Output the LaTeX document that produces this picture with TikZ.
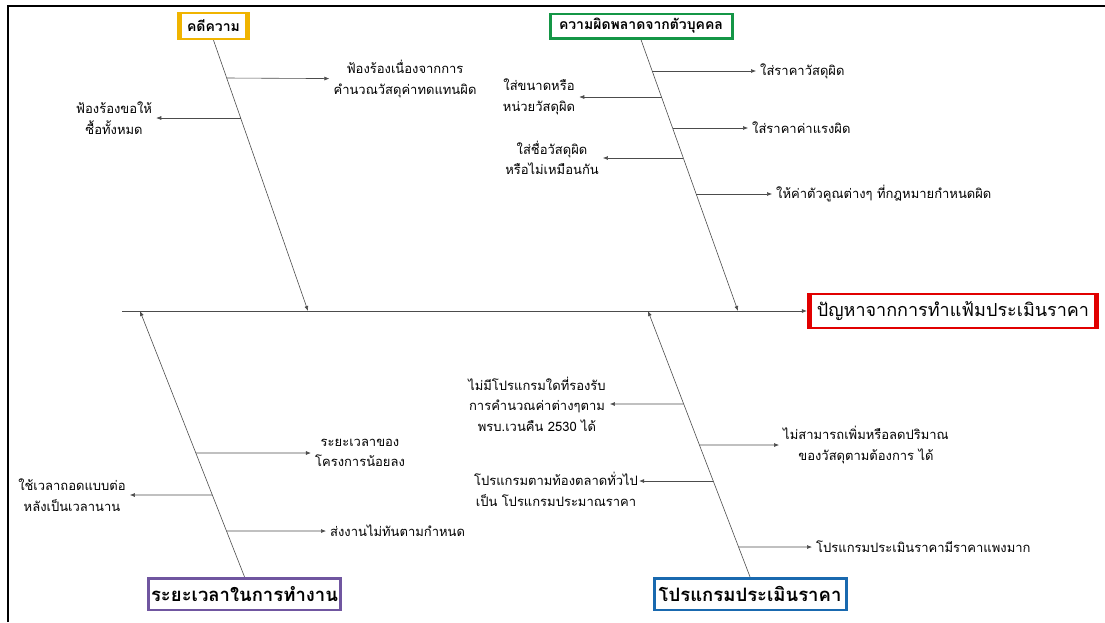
\documentclass[tikz,border=0pt]{standalone}
\usepackage{fontspec}
\setmainfont[Script=Thai]{Loma}
\usepackage{xcolor}
\usetikzlibrary{arrows.meta}

\definecolor{kyellow}{RGB}{240,180,0}
\definecolor{pgreen}{RGB}{20,150,70}
\definecolor{ered}{RGB}{225,0,0}
\definecolor{tpurple}{RGB}{112,86,160}
\definecolor{sblue}{RGB}{25,105,175}

\begin{document}
\begin{tikzpicture}[x=1pt, y=-1pt,
    cause/.style={font=\fontsize{13}{20.5}\selectfont, align=center, inner sep=4pt},
    headbox/.style={fill=#1, inner sep=0pt, align=center,
    path picture={\fill[white] ([xshift=5pt,yshift=-2pt]path picture bounding box.north west)
    rectangle ([xshift=-5pt,yshift=2pt]path picture bounding box.south east);}},
    thinbox/.style={fill=#1, inner sep=0pt, align=center,
    path picture={\fill[white] ([xshift=3pt,yshift=-2.5pt]path picture bounding box.north west)
    rectangle ([xshift=-3pt,yshift=2.5pt]path picture bounding box.south east);}},
    bone/.style={draw=black!75, line width=0.8pt},
    arr/.style={-{Latex[length=5pt,width=4pt]}, draw=black!70, line width=0.6pt}
]
\useasboundingbox (0,0) rectangle (1105,622);
% frame
\draw[line width=2.5pt] (8,622) -- (8,6) -- (1105,6);

% heads
\node[headbox=kyellow, minimum width=73pt, minimum height=28pt,
    font=\fontsize{14}{17}\selectfont\bfseries] (kbox) at (213.5,26) {คดีความ};
\node[thinbox=pgreen, minimum width=185pt, minimum height=27pt,
    font=\fontsize{14}{17}\selectfont\bfseries] (pbox) at (641,26) {ความผิดพลาดจากตัวบุคคล};
\node[headbox=ered, minimum width=292pt, minimum height=36pt,
    font=\fontsize{18}{21}\selectfont] (ebox) at (953,311) {ปัญหาจากการทำแฟ้มประเมินราคา};
\node[thinbox=tpurple, minimum width=195pt, minimum height=34pt,
    font=\fontsize{18.5}{22}\selectfont\bfseries] (tbox) at (244.5,594) {ระยะเวลาในการทำงาน};
\node[thinbox=sblue, minimum width=195pt, minimum height=34pt,
    font=\fontsize{18.5}{22}\selectfont\bfseries] (sbox) at (750,594) {โปรแกรมประเมินราคา};

% spine and bones
\coordinate (tail) at (122,311);
\coordinate (kj) at (308,311);
\coordinate (pj) at (738,311);
\coordinate (tj) at (140,311);
\coordinate (sj) at (648,311);
\draw[arr] (tail) -- (ebox.west);
\draw[arr] (kbox.south) -- (kj);
\draw[arr] (pbox.south) -- (pj);
\draw[arr] (tbox.north) -- (tj);
\draw[arr] (sbox.north) -- (sj);

% points on the bones
\coordinate (k1) at (intersection of kbox.south--kj and 0,78--100,78);
\coordinate (k2) at (intersection of kbox.south--kj and 0,118--100,118);
\coordinate (p1) at (intersection of pbox.south--pj and 0,71--100,71);
\coordinate (p2) at (intersection of pbox.south--pj and 0,97--100,97);
\coordinate (p3) at (intersection of pbox.south--pj and 0,128--100,128);
\coordinate (p4) at (intersection of pbox.south--pj and 0,158--100,158);
\coordinate (p5) at (intersection of pbox.south--pj and 0,194--100,194);
\coordinate (t1) at (intersection of tbox.north--tj and 0,453--100,453);
\coordinate (t2) at (intersection of tbox.north--tj and 0,495--100,495);
\coordinate (t3) at (intersection of tbox.north--tj and 0,531--100,531);
\coordinate (s1) at (intersection of sbox.north--sj and 0,404--100,404);
\coordinate (s2) at (intersection of sbox.north--sj and 0,445--100,445);
\coordinate (s3) at (intersection of sbox.north--sj and 0,481--100,481);
\coordinate (s4) at (intersection of sbox.north--sj and 0,547--100,547);

% causes
\node[cause] (kc1) at (405,79) {ฟ้องร้องเนื่องจากการ\\คำนวณวัสดุค่าทดแทนผิด};
\node[cause] (kc2) at (114,118) {ฟ้องร้องขอให้\\ซื้อทั้งหมด};
\node[cause, anchor=west] (pc1) at (756,71) {ใส่ราคาวัสดุผิด};
\node[cause] (pc2) at (539,97) {ใส่ขนาดหรือ\\หน่วยวัสดุผิด};
\node[cause, anchor=west] (pc3) at (748,128) {ใส่ราคาค่าแรงผิด};
\node[cause] (pc4) at (552,158) {ใส่ชื่อวัสดุผิด\\หรือไม่เหมือนกัน};
\node[cause, anchor=west] (pc5) at (772,194) {ให้ค่าตัวคูณต่างๆ ที่กฎหมายกำหนดผิด};
\node[cause] (tc1) at (360,453) {ระยะเวลาของ\\โครงการน้อยลง};
\node[cause] (tc2) at (72,495) {ใช้เวลาถอดแบบต่อ\\หลังเป็นเวลานาน};
\node[cause, anchor=west] (tc3) at (326,531) {ส่งงานไม่ทันตามกำหนด};
\node[cause] (sc1) at (537,404) {ไม่มีโปรแกรมใดที่รองรับ\\การคำนวณค่าต่างๆตาม\\พรบ.เวนคืน 2530 ได้};
\node[cause] (sc2) at (866,445) {ไม่สามารถเพิ่มหรือลดปริมาณ\\ของวัสดุตามต้องการ ได้};
\node[cause, anchor=north, inner sep=1pt] (sc3) at (556,471) {โปรแกรมตามท้องตลาดทั่วไป\\เป็น โปรแกรมประมาณราคา};
\node[cause, anchor=west] (sc4) at (812,547) {โปรแกรมประเมินราคามีราคาแพงมาก};

% branches
\draw[arr] (k1) -- (kc1);
\draw[arr] (k2) -- (kc2);
\draw[arr] (p1) -- (pc1);
\draw[arr] (p2) -- (pc2);
\draw[arr] (p3) -- (pc3);
\draw[arr] (p4) -- (pc4);
\draw[arr] (p5) -- (pc5);
\draw[arr] (t1) -- (tc1);
\draw[arr] (t2) -- (tc2);
\draw[arr] (t3) -- (tc3);
\draw[arr] (s1) -- (sc1);
\draw[arr] (s2) -- (sc2);
\draw[arr] (s3) -- (s3 -| sc3.east);
\draw[arr] (s4) -- (sc4);
\end{tikzpicture}
\end{document}
